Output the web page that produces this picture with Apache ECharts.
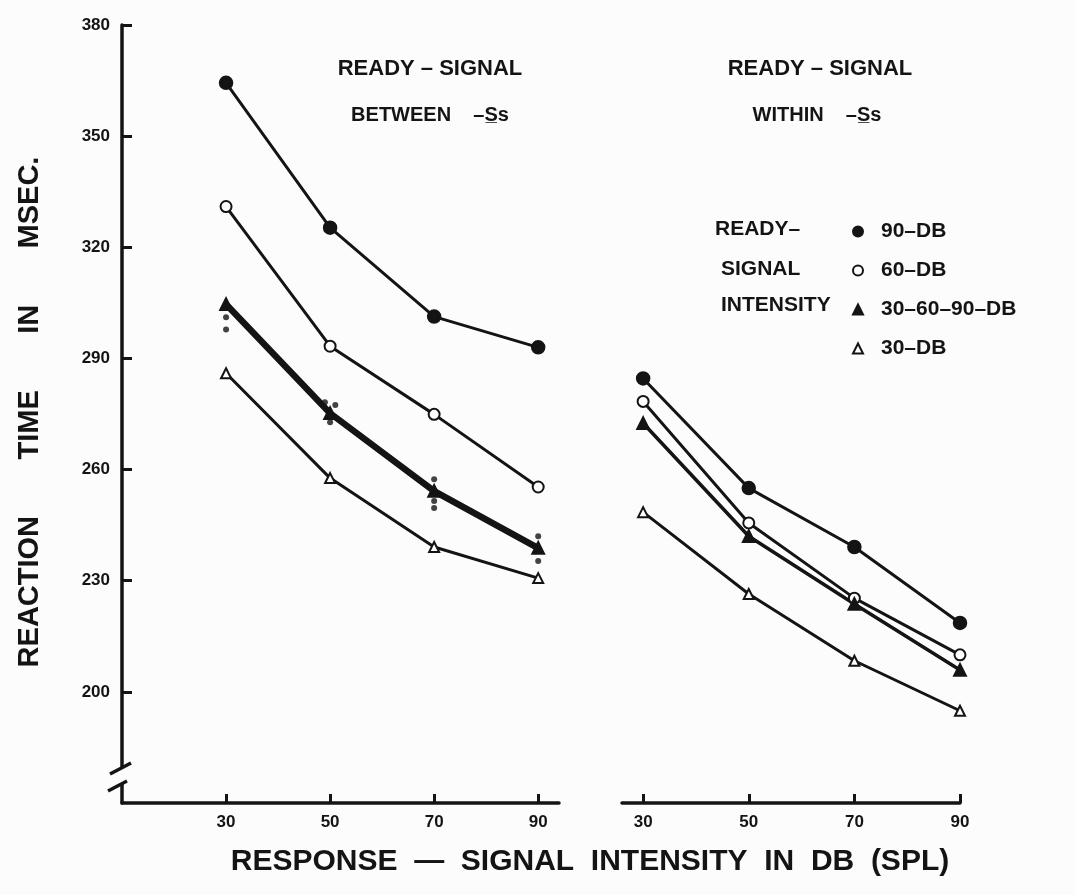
<!DOCTYPE html>
<html>
<head>
<meta charset="utf-8">
<script src="https://cdn.jsdelivr.net/npm/echarts@6/dist/echarts.min.js"></script>
<style>
html, body { margin: 0; padding: 0; background: #fcfcfc; }
#chart { width: 1076px; height: 895px; }
</style>
</head>
<body>
<div id="chart"></div>
<script>
var intensities = [30, 50, 70, 90];
var yTicks = [200, 230, 260, 290, 320, 350, 380];
var legendNames = ['90\u2013DB', '60\u2013DB', '30\u201360\u201390\u2013DB', '30\u2013DB'];

// ready-signal between Ss
var betweenDb90 = [364.4, 325.3, 301.3, 293.0];
var betweenDb60 = [331.0, 293.3, 274.9, 255.3];
var betweenMixed = [304.6, 275.2, 254.2, 238.8];
var betweenDb30 = [286.0, 257.7, 239.1, 230.7];
// the small dots drawn round the mixed points
var betweenMixedDots = [[30, 301.1], [30, 297.8], [49, 278.2], [51, 277.4], [50, 272.8],
    [70, 257.4], [70, 251.5], [70, 249.6], [90, 242.0], [90, 235.3]];

// ready-signal within Ss
var withinDb90 = [284.6, 255.0, 239.1, 218.6];
var withinDb60 = [278.4, 245.6, 225.3, 210.0];
var withinMixed = [272.5, 242.0, 223.7, 205.9];
var withinDb30 = [248.5, 226.4, 208.4, 194.9];

var ink = '#141414';
var boldFont = '"Liberation Sans", Arial, sans-serif';
var tickFont = '"Liberation Sans Narrow", "Liberation Sans", sans-serif';

function pairs(values) {
    return intensities.map(function (x, i) {
        return [x, values[i]];
    });
}

function makeLine(name, grid, values, symbol, size, width) {
    return {
        name: name,
        type: 'line',
        xAxisIndex: grid,
        yAxisIndex: grid,
        data: pairs(values),
        symbol: symbol,
        symbolSize: size,
        showAllSymbol: true,
        lineStyle: { color: ink, width: width },
        itemStyle: { color: ink, borderColor: ink, borderWidth: 2.5 },
        emphasis: { disabled: true },
        z: 3
    };
}

function xAxisFor(grid, min, max) {
    return {
        type: 'value',
        gridIndex: grid,
        min: min,
        max: max,
        axisLine: { show: true, onZero: false, lineStyle: { color: ink, width: 3.5 } },
        axisTick: { show: true, inside: true, length: 9, customValues: intensities, lineStyle: { color: ink, width: 3 } },
        axisLabel: {
            show: true, customValues: intensities, margin: 11,
            color: ink, fontFamily: tickFont, fontWeight: 'bold', fontSize: 17
        },
        splitLine: { show: false }
    };
}

function label(id, x, y, text, size, align) {
    return {
        type: 'text', id: id, x: x, y: y,
        style: {
            text: text, fill: ink, font: 'bold ' + size + 'px ' + boldFont,
            textAlign: align || 'left', textVerticalAlign: 'middle'
        }
    };
}

var chart = echarts.init(document.getElementById('chart'));

chart.setOption({
    backgroundColor: '#fcfcfc',
    animation: false,
    grid: [
        { left: 122, top: 25, width: 437, bottom: 92, outerBoundsMode: 'none' },
        { left: 622, top: 25, width: 338, bottom: 92, outerBoundsMode: 'none' }
    ],
    xAxis: [xAxisFor(0, 10, 94), xAxisFor(1, 26, 90)],
    yAxis: [{
        type: 'value',
        gridIndex: 0,
        min: 170,
        max: 380,
        axisLine: { show: true, onZero: false, lineStyle: { color: ink, width: 3.5 } },
        axisTick: { show: true, inside: true, length: 10, customValues: yTicks, lineStyle: { color: ink, width: 3 } },
        axisLabel: {
            show: true, customValues: yTicks, margin: 12,
            color: ink, fontFamily: tickFont, fontWeight: 'bold', fontSize: 17
        },
        splitLine: { show: false }
    }, {
        type: 'value',
        gridIndex: 1,
        min: 170,
        max: 380,
        show: false,
        splitLine: { show: false }
    }],
    legend: {
        orient: 'vertical',
        left: 847,
        top: 216,
        itemWidth: 10,
        itemHeight: 10,
        itemGap: 18,
        selectedMode: false,
        textStyle: { color: ink, fontFamily: boldFont, fontWeight: 'bold', fontSize: 21, padding: [0, 0, 0, 13] },
        data: [
            { name: legendNames[0], icon: 'circle' },
            { name: legendNames[1], icon: 'emptyCircle' },
            { name: legendNames[2], icon: 'triangle' },
            { name: legendNames[3], icon: 'emptyTriangle' }
        ]
    },
    graphic: [
        label('t1', 430, 69, 'READY \u2013 SIGNAL', 22, 'center'),
        label('t2', 430, 115, 'BETWEEN    \u2013S\u0332s', 20, 'center'),
        label('t3', 820, 69, 'READY \u2013 SIGNAL', 22, 'center'),
        label('t4', 817, 115, 'WITHIN    \u2013S\u0332s', 20, 'center'),
        label('l1', 715, 229, 'READY\u2013', 21),
        label('l2', 721, 269, 'SIGNAL', 21),
        label('l3', 721, 305, 'INTENSITY', 21),
        label('xt', 590, 862, 'RESPONSE  \u2014  SIGNAL  INTENSITY  IN  DB  (SPL)', 30, 'center'),
        {
            type: 'text', id: 'yt', x: 30, y: 412, rotation: Math.PI / 2,
            style: {
                text: 'REACTION       TIME       IN       MSEC.', fill: ink,
                font: 'bold 29px ' + boldFont, textAlign: 'center', textVerticalAlign: 'middle'
            }
        }
    ],
    series: [
        makeLine(legendNames[0], 0, betweenDb90, 'circle', 12, 3),
        makeLine(legendNames[1], 0, betweenDb60, 'emptyCircle', 11, 3),
        makeLine(legendNames[2], 0, betweenMixed, 'triangle', 11, 6.5),
        makeLine(legendNames[3], 0, betweenDb30, 'emptyTriangle', 10, 3),
        {
            name: 'single conditions',
            type: 'scatter',
            xAxisIndex: 0,
            yAxisIndex: 0,
            data: betweenMixedDots,
            symbol: 'circle',
            symbolSize: 6,
            itemStyle: { color: ink },
            emphasis: { disabled: true },
            z: 4
        },
        makeLine(legendNames[0], 1, withinDb90, 'circle', 12, 3),
        makeLine(legendNames[1], 1, withinDb60, 'emptyCircle', 11, 3),
        makeLine(legendNames[2], 1, withinMixed, 'triangle', 11, 3.5),
        makeLine(legendNames[3], 1, withinDb30, 'emptyTriangle', 10, 3)
    ]
});

// axis break sign near the foot of the y axis
var foot = chart.convertToPixel({ gridIndex: 0 }, [10, 170]);
chart.setOption({
    graphic: [
        { type: 'rect', id: 'gap', x: foot[0] - 5, y: foot[1] - 35, shape: { width: 10, height: 16 }, style: { fill: '#fcfcfc' }, z: 10 },
        { type: 'line', id: 'cut1', shape: { x1: foot[0] - 12, y1: foot[1] - 29, x2: foot[0] + 9, y2: foot[1] - 40 }, style: { stroke: ink, lineWidth: 3.5 }, z: 11 },
        { type: 'line', id: 'cut2', shape: { x1: foot[0] - 14, y1: foot[1] - 12, x2: foot[0] + 5, y2: foot[1] - 22 }, style: { stroke: ink, lineWidth: 3.5 }, z: 11 }
    ]
});
</script>
</body>
</html>
